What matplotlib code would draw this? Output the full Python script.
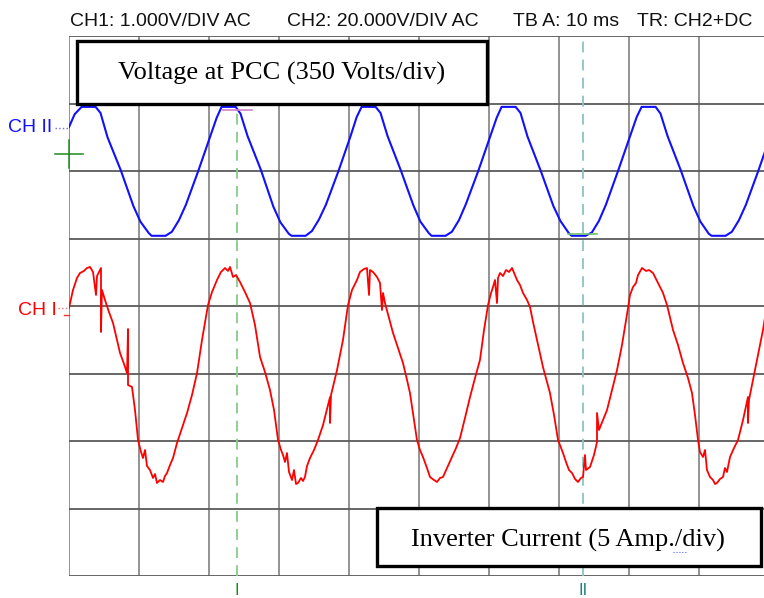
import matplotlib
matplotlib.use("Agg")
import matplotlib.pyplot as plt
from matplotlib.patches import Rectangle

# scope screen: 10 ms/div horizontally, values below are in screen divisions
time_divs = [0, 10, 20, 30, 40, 50, 60, 70, 80, 90, 100]
level_divs = [-4, -3, -2, -1, 0, 1, 2, 3, 4]

# CH II - voltage at PCC (350 V/div)
ch2_t = [0.0, 0.8, 1.8,
         3.8, 4.5, 5.5, 7.4, 9.2, 10.2, 11.4, 11.8, 13.8, 14.7, 15.7, 16.7, 18.5, 20.2, 21.1, 21.8,
         23.8, 24.5, 25.5, 27.4, 29.2, 30.2, 31.4, 31.8, 33.8, 34.7, 35.7, 36.7, 38.5, 40.2, 41.1, 41.8,
         43.8, 44.5, 45.5, 47.4, 49.2, 50.2, 51.4, 51.8, 53.8, 54.7, 55.7, 56.7, 58.5, 60.2, 61.1, 61.8,
         63.8, 64.5, 65.5, 67.4, 69.2, 70.2, 71.4, 71.8, 73.8, 74.7, 75.7, 76.7, 78.5, 80.2, 81.1, 81.8,
         83.8, 84.5, 85.5, 87.4, 89.2, 90.2, 91.4, 91.8, 93.8, 94.7, 95.7, 96.7, 98.5, 100.2]
ch2_div = [2.65, 2.84, 2.95,
           2.95, 2.86, 2.50, 2.01, 1.48, 1.25, 1.08, 1.04, 1.04, 1.10, 1.27, 1.50, 2.01, 2.52, 2.79, 2.95,
           2.95, 2.85, 2.52, 2.02, 1.47, 1.24, 1.07, 1.04, 1.04, 1.11, 1.28, 1.50, 2.00, 2.51, 2.80, 2.95,
           2.95, 2.86, 2.52, 2.01, 1.49, 1.25, 1.08, 1.04, 1.04, 1.10, 1.27, 1.51, 2.01, 2.52, 2.79, 2.95,
           2.95, 2.86, 2.51, 2.00, 1.48, 1.26, 1.08, 1.04, 1.04, 1.09, 1.26, 1.50, 2.02, 2.53, 2.80, 2.95,
           2.95, 2.85, 2.52, 2.01, 1.48, 1.25, 1.07, 1.04, 1.04, 1.10, 1.27, 1.50, 2.01, 2.52]

# CH I - inverter current (5 A/div)
ch1_t = [0.00, 0.57, 1.14, 1.57, 2.14, 2.57, 3.00, 3.43, 3.86, 4.00, 4.29, 4.57, 4.57, 4.71, 5.14,
         5.71, 6.29, 6.86, 7.29, 7.86, 8.29, 8.43, 8.43, 9.00, 9.43, 9.86, 10.29, 10.57, 10.86, 11.14,
         11.57, 12.00, 12.29, 12.57, 13.00, 13.43, 13.71, 14.00, 14.43, 14.86, 15.43, 16.14, 16.86,
         17.57, 18.29, 19.00, 19.86, 20.43, 21.14, 21.71, 22.29, 22.71, 23.00, 23.43, 23.86, 24.43,
         25.14, 25.86, 26.57, 27.29, 28.00, 28.71, 29.29, 29.86, 30.29, 30.57, 30.86, 31.14, 31.43,
         31.86, 32.14, 32.43, 32.71, 33.14, 33.43, 33.71, 34.00, 34.43, 35.00, 35.57, 36.29, 37.00,
         37.29, 37.29, 37.43, 38.29, 39.14, 39.86, 40.43, 41.14, 41.57, 42.14, 42.57, 42.86, 43.00,
         43.43, 44.00, 44.43, 44.71, 44.86, 45.14, 45.71, 46.29, 47.00, 47.71, 48.29, 48.71, 49.29,
         49.71, 50.14, 50.57, 51.14, 51.57, 52.14, 52.57, 53.00, 53.43, 54.00, 54.71, 55.29, 55.86,
         56.57, 57.29, 58.00, 58.71, 59.29, 59.86, 60.29, 60.57, 60.86, 61.14, 61.29, 61.57, 62.00,
         62.43, 62.86, 63.29, 64.00, 64.43, 64.86, 65.43, 65.86, 66.29, 66.86, 67.71, 68.71, 69.29,
         69.86, 70.29, 70.57, 71.00, 71.43, 71.86, 72.29, 72.71, 73.14, 73.43, 73.71, 73.86, 74.43,
         75.00, 75.43, 75.43, 75.71, 76.29, 76.86, 77.57, 78.29, 79.00, 79.86, 80.14, 80.57, 81.00,
         81.29, 81.86, 82.43, 82.86, 83.43, 83.86, 84.43, 84.86, 85.43, 86.29, 87.00, 87.71, 88.43,
         89.00, 89.43, 89.86, 90.14, 90.57, 90.86, 91.14, 91.57, 92.00, 92.29, 92.57, 93.00, 93.43,
         93.71, 94.00, 94.43, 95.00, 95.57, 96.29, 97.00, 97.00, 97.14, 97.71, 98.43, 99.14, 99.71]
ch1_div = [-0.030, 0.237, 0.415, 0.489, 0.519, 0.563, 0.578, 0.504, 0.163, 0.444, 0.504, 0.563, -0.385, 0.237, 0.089,
           -0.089, -0.252, -0.504, -0.696, -0.859, -0.993, -0.341, -1.170, -1.200, -1.541, -1.985, -2.163, -2.252, -2.133, -2.370,
           -2.430, -2.548, -2.489, -2.622, -2.578, -2.607, -2.519, -2.474, -2.356, -2.252, -2.030, -1.807, -1.585,
           -1.319, -0.993, -0.504, 0.015, 0.207, 0.385, 0.504, 0.563, 0.519, 0.578, 0.430, 0.459, 0.356,
           0.207, 0.044, -0.281, -0.756, -0.978, -1.244, -1.541, -1.985, -2.133, -2.207, -2.311, -2.178, -2.459,
           -2.578, -2.430, -2.637, -2.622, -2.548, -2.593, -2.533, -2.370, -2.252, -2.133, -1.985, -1.763, -1.467,
           -1.348, -1.733, -1.319, -0.948, -0.504, 0.015, 0.237, 0.385, 0.504, 0.548, 0.563, 0.163, 0.533,
           0.504, 0.430, 0.341, -0.059, 0.193, 0.044, -0.178, -0.400, -0.622, -0.844, -1.096, -1.289, -1.689,
           -1.985, -2.133, -2.237, -2.400, -2.533, -2.578, -2.607, -2.548, -2.533, -2.400, -2.237, -2.104, -1.956,
           -1.659, -1.348, -1.067, -0.800, -0.356, 0.015, 0.193, 0.281, 0.385, 0.044, 0.415, 0.489, 0.444,
           0.533, 0.504, 0.563, 0.385, 0.311, 0.193, 0.089, -0.015, -0.237, -0.504, -0.904, -1.289, -1.615,
           -1.985, -2.104, -2.178, -2.311, -2.430, -2.474, -2.563, -2.607, -2.548, -2.533, -2.207, -2.430, -2.385,
           -2.207, -2.015, -1.585, -1.837, -1.689, -1.541, -1.244, -0.948, -0.578, -0.030, 0.163, 0.281, 0.341,
           0.459, 0.563, 0.519, 0.533, 0.489, 0.400, 0.281, 0.193, 0.015, -0.356, -0.578, -0.844, -1.067,
           -1.289, -1.615, -1.985, -2.163, -2.237, -2.133, -2.430, -2.533, -2.578, -2.637, -2.622, -2.563, -2.533,
           -2.400, -2.459, -2.237, -2.104, -1.985, -1.689, -1.348, -1.733, -1.393, -1.096, -0.726, -0.356, 0.015]

# cursors and markers
cursor_t = [24.0, 73.4]
cursor_names = ["I", "II"]
trig_level = 2.25
readout_I = ([22.0, 26.1], [2.90, 2.90])
readout_II = ([71.3, 75.4], [1.07, 1.07])

header = ["CH1: 1.000V/DIV AC", "CH2: 20.000V/DIV AC", "TB A: 10 ms", "TR: CH2+DC"]
header_x = [70, 287, 513, 637]

W, H = 764, 598
fig = plt.figure(figsize=(W / 100, H / 100), dpi=100)
ax = fig.add_axes([69 / W, 22 / H, 700 / W, 540 / H])
ax.set_xlim(0, 100)
ax.set_ylim(-4, 4)
ax.axis("off")

for t in time_divs:
    ax.axvline(t, color="#8a8a8a", lw=1.3, zorder=1)
for d in level_divs:
    ax.axhline(d, color="#5a5a5a", lw=1.3, zorder=1)

ax.plot(ch2_t, ch2_div, color="#1010ff", lw=1.5, zorder=3)
ax.plot(ch1_t, ch1_div, color="#ff0000", lw=1.3, zorder=3)

# cursors
ax.axvline(cursor_t[0], color="#88cc88", lw=1.3, ls=(0, (6, 4)), zorder=2)
ax.axvline(cursor_t[1], color="#88c4c4", lw=1.3, ls=(0, (6, 4)), zorder=2)
ax.plot(*readout_I, color="#d080d0", lw=1.2, zorder=4)
ax.plot(*readout_II, color="#70c070", lw=1.2, zorder=4)
cur_colors = ["#1e8a1e", "#1e7f7f"]
for t, name, c in zip(cursor_t, cursor_names, cur_colors):
    ax.text(t, -4.11, name, color=c, fontsize=12, family="Liberation Sans",
            ha="center", va="top", clip_on=False)

# trigger cross
ax.plot([-2.0, 2.0], [trig_level, trig_level], color="#1e8a1e", lw=1.1, clip_on=False, zorder=4)
ax.plot([0, 0], [trig_level + 0.21, trig_level - 0.21], color="#1e8a1e", lw=1.1, clip_on=False, zorder=4)

# channel markers
ax.plot([-2.0, 0], [2.64, 2.64], color="#6a6aff", lw=1.0, ls=":", clip_on=False)
ax.text(-2.4, 2.64, "CH II", color="#1010ff", fontsize=14, family="Liberation Sans",
        ha="right", va="center", clip_on=False)
ax.plot([-1.6, 0], [-0.03, -0.03], color="#ff7070", lw=1.0, ls=":", clip_on=False)
ax.plot([-0.7, 0], [-0.13, -0.13], color="#ff3030", lw=1.0, clip_on=False)
ax.text(-1.7, -0.06, "CH I", color="#ff0000", fontsize=14, family="Liberation Sans",
        ha="right", va="center", clip_on=False)

# header
for s, x in zip(header, header_x):
    fig.text(x / W, 1 - 26 / H, s, fontsize=14, family="Liberation Sans", color="#111111",
             ha="left", va="baseline")

# caption boxes
fx = lambda x: (x - 69) / 700
fy = lambda y: (576 - y) / 540


def box(x0, y0, x1, y1, text, tx, ty):
    ax.add_patch(Rectangle((fx(x0), fy(y1)), fx(x1) - fx(x0), fy(y0) - fy(y1),
                           transform=ax.transAxes, facecolor="white", edgecolor="black",
                           lw=2.4, zorder=6, clip_on=False))
    ax.text(fx(tx), fy(ty), text, transform=ax.transAxes, fontsize=19,
            family="Liberation Serif", ha="center", va="baseline", zorder=7)


box(77, 41, 487, 104, "Voltage at PCC (350 Volts/div)", 282, 80)
box(377, 508, 761, 566, "Inverter Current (5 Amp./div)", 568, 547)
# spell-check squiggle under "./"
ax.plot([fx(673), fx(686)], [fy(552), fy(552)], transform=ax.transAxes,
        color="#5060ff", lw=0.8, ls=":", zorder=8)

fig.savefig("out.png", dpi=100)
